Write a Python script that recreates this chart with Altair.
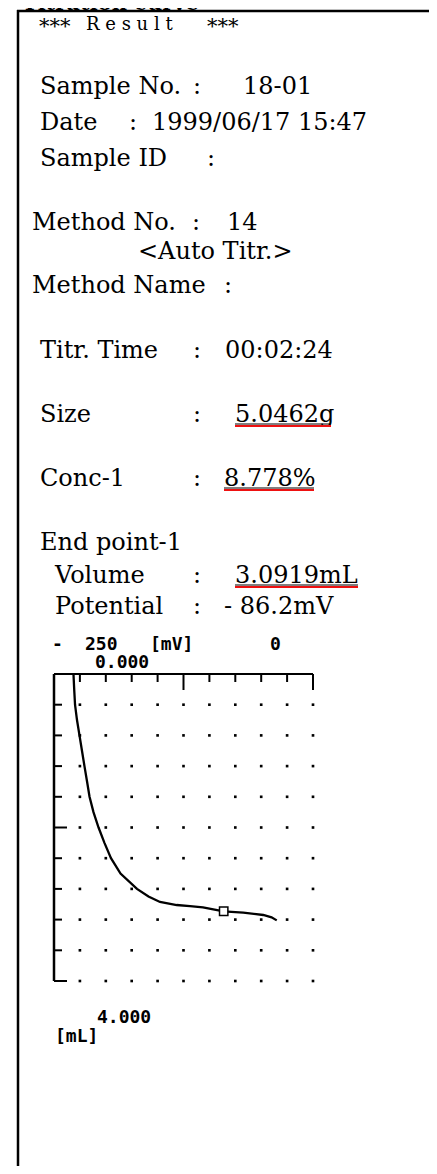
import altair as alt
import pandas as pd

# ---------------- data ----------------
TITLE = "Titration curve"
RESULT_PARTS = ["***", "R  e  s  u  l  t", "***"]

LABELS = ["Sample No.", "Date", "Sample ID", "Method No.", "<Auto Titr.>", "Method Name",
          "Titr. Time", "Size", "Conc-1", "End point-1", "Volume", "Potential"]
HAS_COLON = [True, True, True, True, False, True, True, True, True, False, True, True]
VALUES = ["18-01", "1999/06/17 15:47", "", "14", "", "", "00:02:24",
          "5.0462g", "8.778%", "", "3.0919mL", "- 86.2mV"]
UNDERLINED = ["5.0462g", "8.778%", "3.0919mL"]

# chart annotation texts
AXIS_TOP_TEXTS = ["-", "250", "[mV]", "0"]
VOL_START_LABEL = "0.000"
VOL_END_LABEL = "4.000"
VOL_UNIT = "[mL]"

# titration curve (volume mL, potential mV)
CURVE_VOLUME = [0.0, 0.2, 0.4, 0.6, 0.8, 1.0, 1.2, 1.4, 1.6, 1.8, 2.0, 2.2, 2.4,
                2.6, 2.8, 2.9, 2.97, 3.01, 3.025, 3.04, 3.07, 3.0919, 3.11, 3.14, 3.17, 3.21]
CURVE_POTENTIAL = [-231.2, -230.5, -229.7, -227.8, -225.4, -223.0, -220.6, -218.1, -215.7,
                   -211.9, -207.0, -201.3, -195.0, -185.8, -169.9, -158.8, -147.7, -131.6,
                   -118.7, -106.2, -95.0, -86.2, -67.3, -48.0, -40.0, -35.0]
END_VOLUME = [3.0919]
END_POTENTIAL = [-86.2]

POT_DOMAIN = [-250, 0]
VOL_DOMAIN = [0, 4]
POT_GRID = [-225, -200, -175, -150, -125, -100, -75, -50, -25, 0]
VOL_GRID = [0.4, 0.8, 1.2, 1.6, 2.0, 2.4, 2.8, 3.2, 3.6, 4.0]
POT_TICKS_SHORT = [-225, -200, -175, -150, -100, -75, -50, -25]
POT_TICKS_LONG = [-125, 0]
VOL_TICKS_SHORT = [0.4, 0.8, 1.2, 1.6, 2.4, 2.8, 3.2, 3.6]
VOL_TICKS_LONG = [2.0, 4.0]

# ---------------- layout helpers ----------------
M = 8  # page margin
SERIF = "DejaVu Serif"
MONO = "DejaVu Sans Mono"

XS = alt.Scale(domain=POT_DOMAIN, range=[54 - M, 313 - M], nice=False, zero=False)
YS = alt.Scale(domain=VOL_DOMAIN, range=[674 - M, 981 - M], nice=False, zero=False)

layers = []


def txt(s, x, y, size=24, font=SERIF, weight="normal"):
    return alt.Chart(pd.DataFrame({"t": [s]})).mark_text(
        align="left", baseline="alphabetic", font=font, fontSize=size,
        fontWeight=weight, color="black"
    ).encode(text="t:N", x=alt.value(x - M), y=alt.value(y - M))


def hrule(x1, x2, y, color="black", w=2):
    return alt.Chart(pd.DataFrame({"a": [0]})).mark_rule(color=color, strokeWidth=w).encode(
        x=alt.value(x1 - M), x2=alt.value(x2 - M), y=alt.value(y - M))


def vrule(x, y1, y2, color="black", w=2):
    return alt.Chart(pd.DataFrame({"a": [0]})).mark_rule(color=color, strokeWidth=w).encode(
        x=alt.value(x - M), y=alt.value(y1 - M), y2=alt.value(y2 - M))


# title (cut off at the top as in the original)
layers.append(txt(TITLE, 22, 9.5, size=21, weight="bold"))
# frame
layers.append(hrule(17, 437, 11, w=2.5))
layers.append(vrule(18, 10, 1174, w=2.5))

# result header
layers.append(txt(RESULT_PARTS[0], 39, 33, size=21))
layers.append(txt(RESULT_PARTS[1], 86, 30, size=18))
layers.append(txt(RESULT_PARTS[2], 207, 33, size=21))

# rows: label x, baseline, colon x, value x
ROW_POS = [(40, 94, 193, 243), (40, 130, 129, 152), (40, 166, 207, 0),
           (32, 230, 192, 227), (138, 259, 0, 0), (32, 293, 224, 0),
           (40, 358, 193, 225), (40, 422, 193, 235), (40, 486, 193, 224),
           (40, 550, 0, 0), (55, 583, 193, 235), (55, 614, 193, 224)]

for lab, col, val, (lx, by, cx, vx) in zip(LABELS, HAS_COLON, VALUES, ROW_POS):
    layers.append(txt(lab, lx, by))
    if col:
        layers.append(txt(":", cx, by))
    if val:
        layers.append(txt(val, vx, by))
        if val in UNDERLINED:
            w_est = {"5.0462g": 96, "8.778%": 90, "3.0919mL": 123}[val]
            layers.append(hrule(vx, vx + w_est, by + 2, w=1))
            layers.append(hrule(vx, vx + w_est, by + 4, color="#ee1111", w=2))

# chart labels
for s, x in zip(AXIS_TOP_TEXTS, [52, 85, 150, 270]):
    layers.append(txt(s, x, 650, size=18, font=MONO, weight="bold"))
layers.append(txt(VOL_START_LABEL, 95, 668, size=18, font=MONO, weight="bold"))
layers.append(txt(VOL_END_LABEL, 97, 1023, size=18, font=MONO, weight="bold"))
layers.append(txt(VOL_UNIT, 55, 1042, size=18, font=MONO, weight="bold"))

# ---------------- titration plot ----------------
frame_top = alt.Chart(pd.DataFrame({"x": [POT_DOMAIN[0]], "x2": [POT_DOMAIN[1]], "y": [VOL_DOMAIN[0]]})
                      ).mark_rule(color="black", strokeWidth=2).encode(
    x=alt.X("x:Q", scale=XS, axis=None), x2="x2:Q", y=alt.Y("y:Q", scale=YS, axis=None))
frame_left = alt.Chart(pd.DataFrame({"x": [POT_DOMAIN[0]], "y": [VOL_DOMAIN[0]], "y2": [VOL_DOMAIN[1]]})
                       ).mark_rule(color="black", strokeWidth=2.5).encode(
    x=alt.X("x:Q", scale=XS, axis=None), y=alt.Y("y:Q", scale=YS, axis=None), y2="y2:Q")
layers += [frame_top, frame_left]

top_short = alt.Chart(pd.DataFrame({"p": POT_TICKS_SHORT})).mark_rule(color="black", strokeWidth=2).encode(
    x=alt.X("p:Q", scale=XS, axis=None), y=alt.value(674 - M), y2=alt.value(682 - M))
top_long = alt.Chart(pd.DataFrame({"p": POT_TICKS_LONG})).mark_rule(color="black", strokeWidth=2).encode(
    x=alt.X("p:Q", scale=XS, axis=None), y=alt.value(674 - M), y2=alt.value(690 - M))
left_short = alt.Chart(pd.DataFrame({"v": VOL_TICKS_SHORT})).mark_rule(color="black", strokeWidth=2).encode(
    y=alt.Y("v:Q", scale=YS, axis=None), x=alt.value(54 - M), x2=alt.value(62 - M))
left_long = alt.Chart(pd.DataFrame({"v": VOL_TICKS_LONG})).mark_rule(color="black", strokeWidth=2).encode(
    y=alt.Y("v:Q", scale=YS, axis=None), x=alt.value(54 - M), x2=alt.value(67 - M))
layers += [top_short, top_long, left_short, left_long]

grid = pd.DataFrame([(p, v) for p in POT_GRID for v in VOL_GRID], columns=["p", "v"])
dots = alt.Chart(grid).mark_square(size=7, color="black", opacity=1).encode(
    x=alt.X("p:Q", scale=XS, axis=None), y=alt.Y("v:Q", scale=YS, axis=None))
layers.append(dots)

curve = alt.Chart(pd.DataFrame({"v": CURVE_VOLUME, "p": CURVE_POTENTIAL})).mark_line(
    color="black", strokeWidth=2.3).encode(
    x=alt.X("p:Q", scale=XS, axis=None), y=alt.Y("v:Q", scale=YS, axis=None), order="v:Q")
layers.append(curve)

endpoint = alt.Chart(pd.DataFrame({"v": END_VOLUME, "p": END_POTENTIAL})).mark_square(
    size=70, fill="white", stroke="black", strokeWidth=1.5, opacity=1, fillOpacity=1).encode(
    x=alt.X("p:Q", scale=XS, axis=None), y=alt.Y("v:Q", scale=YS, axis=None))
layers.append(endpoint)

chart = alt.layer(*layers).properties(
    width=437 - 2 * M, height=1174 - 2 * M, padding=0,
    autosize=alt.AutoSizeParams(type="none"),
).configure_view(stroke=None)

chart.save("out.html", embed_options={"renderer": "svg", "actions": False})
